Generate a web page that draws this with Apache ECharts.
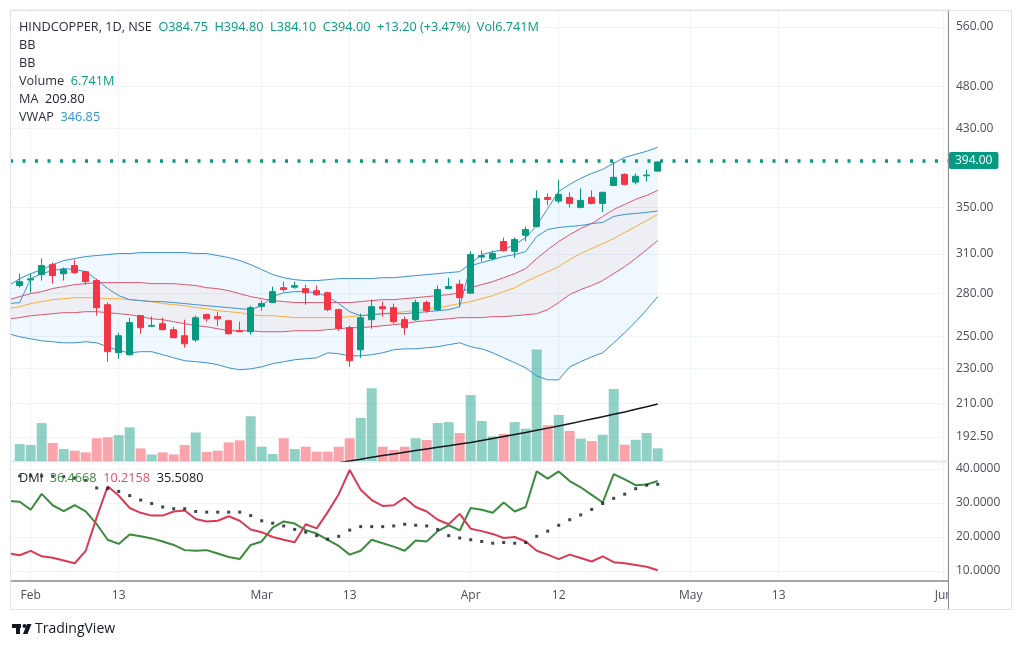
<!DOCTYPE html>
<html><head><meta charset="utf-8">
<script src="https://cdn.jsdelivr.net/npm/echarts@6/dist/echarts.min.js"></script>
<style>html,body{margin:0;padding:0;background:#fff}#c{width:1024px;height:647px}</style>
</head><body><div id="c"></div>
<script>
// ---- data (HINDCOPPER, 1D, NSE, 2024) ----
const dates = ['Jan 30','Jan 31','Feb 1','Feb 2','Feb 5','Feb 6','Feb 7','Feb 8','Feb 9','Feb 12','Feb 13','Feb 14','Feb 15','Feb 16','Feb 19','Feb 20','Feb 21','Feb 22','Feb 23','Feb 26','Feb 27','Feb 28','Feb 29','Mar 1','Mar 2','Mar 4','Mar 5','Mar 6','Mar 7','Mar 11','Mar 12','Mar 13','Mar 14','Mar 15','Mar 18','Mar 19','Mar 20','Mar 21','Mar 22','Mar 26','Mar 27','Mar 28','Apr 1','Apr 2','Apr 3','Apr 4','Apr 5','Apr 8','Apr 9','Apr 10','Apr 12','Apr 15','Apr 16','Apr 18','Apr 19','Apr 22','Apr 23','Apr 24','Apr 25','Apr 26'];
const opens = [284.5,285.6,289.8,293.9,301.6,294.5,300.8,296.1,289.3,271.7,239.8,238.5,264.1,256.9,258.6,254.6,250.6,247.9,264.8,263.4,260.6,253.9,253.2,270.5,273.3,284.0,284.4,283.3,281.8,280.3,268.2,256.0,241.6,261.3,270.3,269.6,261.3,261.3,273.2,268.2,283.3,286.6,280.0,307.6,306.4,320.3,312.2,325.6,333.1,359.3,355.9,359.3,350.1,359.3,353.7,370.7,381.5,373.9,380.1,384.75];
const highs = [288.0,294.6,294.6,306.4,303.2,299.3,305.6,296.9,290.8,273.2,252.6,262.6,264.5,263.4,262.6,256.5,261.3,264.1,265.5,266.8,261.3,259.9,271.0,274.6,284.8,288.5,288.5,286.3,285.6,281.1,268.9,257.2,265.5,275.3,273.9,272.5,263.4,275.3,274.6,285.6,291.5,290.0,312.2,312.8,312.8,323.6,323.9,333.0,365.9,363.1,376.3,364.1,367.8,365.9,364.3,394.0,382.5,382.5,386.2,394.8];
const lows = [283.0,284.0,280.3,289.3,287.0,289.3,294.5,286.3,264.1,234.2,236.0,237.9,251.9,256.5,254.2,249.0,242.9,246.6,259.9,257.2,251.5,253.0,251.3,267.5,272.8,281.1,283.3,271.7,278.1,267.0,253.9,231.1,236.6,255.2,263.4,258.6,251.3,260.6,266.1,267.0,282.9,269.9,279.5,304.0,304.8,312.0,307.0,320.5,332.2,351.9,354.0,350.1,349.2,352.8,345.7,370.7,370.7,371.7,374.6,384.1];
const closes = [286.5,288.5,290.6,300.8,293.1,297.7,295.3,288.5,269.6,240.4,250.6,259.3,255.9,257.4,254.6,249.3,245.4,262.6,261.9,261.9,251.9,253.2,269.6,272.5,281.1,282.6,285.5,280.3,278.9,268.2,255.4,234.8,262.6,270.3,268.9,259.9,255.9,273.2,267.5,282.6,284.8,276.7,309.6,308.8,310.4,312.8,321.9,330.5,358.1,357.4,362.0,353.7,356.5,353.7,364.1,378.6,371.7,379.6,380.8,394.0];
const volumesM = [13.0,9.0,8.5,20.2,9.6,6.4,5.5,4.6,12.1,12.6,13.8,17.9,6.7,3.5,4.6,3.5,8.5,15.2,4.8,5.5,9.9,11.0,23.8,7.6,3.7,12.1,6.4,7.6,5.0,5.0,7.6,12.1,22.9,38.7,7.6,5.9,7.6,12.1,11.2,20.2,20.7,14.9,35.1,21.3,13.1,14.4,20.7,17.2,59.4,19.0,24.5,16.0,11.9,10.6,14.0,38.3,8.7,11.3,14.9,6.741];
const bbOuterUpper = [285.6,290.8,294.6,297.7,301.6,304.8,306.4,308.0,308.8,309.6,310.4,310.4,311.2,311.2,311.2,311.2,311.2,310.4,310.4,308.8,307.2,304.8,301.6,297.7,293.9,291.5,290.0,289.3,289.3,290.0,290.8,290.8,290.8,290.8,291.5,291.5,292.3,293.1,293.9,294.6,295.4,296.1,302.4,309.6,312.0,313.6,317.7,323.6,333.9,349.1,365.0,371.7,377.6,382.5,386.5,392.7,398.8,402.0,405.2,409.4];
const bbOuterLower = [251.9,249.9,248.6,247.3,246.7,246.0,246.0,246.7,246.0,243.5,241.0,239.7,240.4,240.4,238.5,236.6,234.8,234.2,233.6,232.4,230.5,229.3,229.9,231.1,233.0,234.2,235.4,236.0,236.6,239.7,239.1,237.8,237.8,238.5,239.7,241.6,242.2,242.2,242.9,243.5,244.8,246.0,243.5,242.2,239.7,236.6,233.6,230.5,225.7,223.4,223.4,231.1,234.2,237.2,239.7,246.0,252.6,259.9,268.2,277.4];
const bbInnerUpper = [275.3,277.5,279.7,281.1,283.4,284.8,286.3,287.0,287.8,287.8,287.8,287.8,287.8,287.0,287.0,287.0,286.3,285.6,284.0,283.3,281.8,279.6,277.5,276.0,274.6,273.9,273.2,273.2,273.2,273.2,273.2,273.2,273.9,274.6,275.3,275.3,276.0,276.7,277.5,278.2,278.9,280.3,284.0,286.3,288.5,291.5,294.6,298.5,306.4,313.6,320.3,326.1,331.3,335.6,341.9,348.2,352.8,357.5,361.2,365.9];
const bbBasis = [268.9,270.3,272.5,273.9,275.3,276.0,276.7,276.7,276.7,276.0,276.0,275.3,274.6,273.9,272.5,271.7,271.0,269.6,268.9,267.5,266.8,266.1,264.7,264.0,264.0,263.4,262.7,262.7,262.7,262.7,262.7,263.4,264.0,264.7,265.4,266.1,266.8,267.5,268.9,269.6,271.0,272.5,273.9,276.0,278.2,281.1,284.0,288.5,292.3,296.1,300.0,305.6,310.4,314.5,318.6,322.7,327.9,333.1,338.3,343.7];
const bbInnerLower = [261.9,262.7,264.0,264.7,265.4,266.1,266.1,266.8,266.8,266.1,265.4,264.7,263.4,261.9,261.3,259.9,258.6,257.2,256.5,255.2,253.9,253.9,253.9,253.2,253.2,253.2,253.9,253.9,253.9,254.6,255.2,255.9,255.9,256.5,257.2,257.9,258.6,259.9,260.6,261.3,261.9,262.7,262.7,262.7,263.4,263.4,264.0,264.7,265.4,268.2,273.2,279.0,282.6,285.6,289.3,294.6,300.0,306.4,313.6,321.1];
const vwap = [272.5,273.2,290.8,294.6,296.9,298.5,297.7,296.1,290.0,283.4,278.2,275.3,274.6,273.9,273.9,273.2,272.5,271.7,271.0,270.3,269.6,268.9,268.2,271.0,277.5,280.3,281.1,281.1,280.3,277.5,272.5,266.8,264.0,264.7,265.4,265.4,265.4,266.1,266.8,267.5,268.2,270.3,300.8,303.2,305.6,308.0,309.6,312.0,324.5,330.5,332.2,333.1,333.9,335.6,336.6,341.9,343.7,344.6,345.5,346.85];
const maVals = [null,null,null,null,null,null,null,null,null,null,null,null,null,null,null,null,null,null,null,null,null,null,null,null,null,null,null,null,178.4,179.2,180.0,180.8,181.7,182.6,183.4,184.2,185.0,185.8,186.6,187.4,188.2,189.0,189.8,190.8,191.8,192.8,193.8,194.8,195.9,197.0,198.1,199.3,200.5,201.7,202.9,204.2,205.5,206.9,208.3,209.8];
const plusDI = [30.6,30.36,28.02,32.69,29.34,27.61,29.34,27.51,23.76,19.19,17.97,20.71,20.20,19.59,18.68,17.66,16.14,15.94,16.14,15.13,14.11,13.50,17.66,18.68,22.74,24.57,23.96,22.03,21.02,19.19,17.36,14.82,15.94,19.19,18.17,17.16,15.94,18.98,18.68,21.73,23.45,21.93,28.53,28.02,27.11,30.15,27.51,28.83,39.29,37.16,39.29,36.45,34.62,32.39,30.15,38.48,36.95,35.23,35.43,36.4668];
const minusDI = [15.2,14.62,15.94,14.31,13.91,13.10,12.28,15.94,25.79,34.92,32.18,28.53,27.11,26.29,26.29,27.51,27.82,25.28,24.57,24.77,26.09,24.77,22.23,21.42,20.00,19.19,18.48,23.76,22.54,27.31,32.59,39.70,33.91,30.86,29.14,29.34,31.57,28.83,27.51,25.08,23.76,26.80,22.44,21.73,20.91,19.70,20.00,18.68,15.94,14.82,13.50,14.82,13.81,12.79,14.31,12.59,12.28,11.78,11.27,10.2158];
const adx = [38.0,37.97,37.97,37.97,37.87,37.77,37.36,36.65,34.42,34.21,33.40,32.18,30.86,29.85,28.83,28.32,28.32,27.51,27.31,27.31,27.31,27.31,26.29,24.77,24.06,23.25,22.23,21.42,20.41,19.39,20.20,22.03,23.05,23.05,23.05,23.25,23.76,23.45,23.25,22.23,20.41,19.70,19.19,18.68,18.17,18.38,18.17,18.38,20.20,21.73,23.45,25.08,26.50,28.12,29.85,31.37,32.59,34.21,35.23,35.508];
const priceTicks = [560, 480, 430, 350, 310, 280, 250, 230, 210, 192.5];
const dmiTicks = [10, 20, 30, 40];
const xTickPos = [2, 10, 23, 31, 42, 50, 62, 70, 85];
const xTickText = ['Feb', '13', 'Mar', '13', 'Apr', '12', 'May', '13', 'Jun'];

// ---- build ----
const ln = Math.log;
const last = closes.length - 1;
const green = '#089981', red = '#f23645';
const bandBlue = '#3d8fcc', bandRed = '#d9566e', basisOrange = '#f2b03c';
const FONT = 'Open Sans';
const FS = 12.7;
const xMin = 0.1182, xMax = 85.391;
const yMin = 5.197588, yMax = 6.372213;
const inView = i => i >= xMin && i <= xMax;

const candleData = closes.map((c, i) => [i, ln(opens[i]), ln(c), ln(lows[i]), ln(highs[i])]).filter(d => inView(d[0]));
const volData = volumesM.map((v, i) => ({
  value: [i, v],
  itemStyle: { color: closes[i] >= opens[i] ? 'rgba(8,153,129,0.45)' : 'rgba(242,54,69,0.45)' }
})).filter(d => inView(d.value[0]));
const lnPts = arr => arr.map((v, i) => [i, v]).filter(p => p[1] != null).map(p => [p[0], ln(p[1])]);
const line = (arr, color, width, z) => ({
  type: 'line', xAxisIndex: 0, yAxisIndex: 0, data: lnPts(arr), symbol: 'none', showSymbol: false,
  lineStyle: { color, width }, z, silent: true
});
const band = (up, lo, fill) => ({
  type: 'custom', xAxisIndex: 0, yAxisIndex: 0, z: 1, silent: true, clip: true,
  data: [[30, ln(bbBasis[30])]],
  renderItem: (params, api) => {
    const top = up.map((v, i) => api.coord([i, ln(v)]));
    const bot = lo.map((v, i) => api.coord([i, ln(v)])).reverse();
    return { type: 'polygon', shape: { points: top.concat(bot) }, style: { fill } };
  }
});
const xLabelFmt = v => { const k = xTickPos.indexOf(Math.round(v)); return k >= 0 ? xTickText[k] : ''; };

const chg = closes[last] - closes[last - 1];
const pct = chg / closes[last - 1] * 100;
const sg = chg >= 0 ? '+' : '';
const header = '{n|HINDCOPPER, 1D, NSE}  {v|O' + opens[last].toFixed(2) + '}  {v|H' + highs[last].toFixed(2) +
  '}  {v|L' + lows[last].toFixed(2) + '}  {v|C' + closes[last].toFixed(2) + '}  {v|' + sg + chg.toFixed(2) +
  ' (' + sg + pct.toFixed(2) + '%)}  {v|Vol' + volumesM[last].toFixed(3) + 'M}';
const rich = {
  n: { fill: '#2a2e39', fontSize: FS, fontFamily: FONT },
  v: { fill: green, fontSize: FS, fontFamily: FONT },
  k: { fill: '#131722', fontSize: FS, fontFamily: FONT },
  b: { fill: '#2f95d3', fontSize: FS, fontFamily: FONT },
  g: { fill: '#3b8b3f', fontSize: FS, fontFamily: FONT },
  r: { fill: '#d9536b', fontSize: FS, fontFamily: FONT }
};
const txt = (x, y, text) => ({ type: 'text', x, y, z: 50, silent: true,
  style: { text, rich, font: FS + 'px ' + FONT, fill: '#2a2e39', verticalAlign: 'middle', textVerticalAlign: 'middle' } });

const option = {
  animation: false,
  backgroundColor: '#ffffff',
  grid: [
    { left: 10, right: 76, top: 10, height: 451, show: true, borderColor: '#e0e3eb', borderWidth: 1 },
    { left: 10, right: 76, top: 462, height: 119, show: true, borderColor: '#e0e3eb', borderWidth: 1 }
  ],
  xAxis: [
    { type: 'value', gridIndex: 0, min: xMin, max: xMax,
      axisLine: { show: false }, axisLabel: { show: false },
      axisTick: { show: false, customValues: xTickPos },
      splitLine: { show: true, lineStyle: { color: '#f0f3fa', width: 1 } } },
    { type: 'value', gridIndex: 1, min: xMin, max: xMax,
      axisLine: { show: true, lineStyle: { color: '#8a8d96', width: 1.5 } },
      axisTick: { show: false, customValues: xTickPos },
      axisLabel: { show: true, customValues: xTickPos, formatter: xLabelFmt, color: '#4a4e59', fontSize: 12, fontFamily: FONT, margin: 9 },
      splitLine: { show: true, lineStyle: { color: '#f0f3fa', width: 1 } } }
  ],
  yAxis: [
    { type: 'value', gridIndex: 0, position: 'right', min: yMin, max: yMax, scale: true,
      axisLine: { show: true, onZero: false, lineStyle: { color: '#8a8d96', width: 1 } },
      axisTick: { show: false, customValues: priceTicks.map(ln) },
      axisLabel: { show: true, customValues: priceTicks.map(ln), formatter: v => Math.exp(v).toFixed(2), color: '#4a4e59', fontSize: 12, fontFamily: FONT, margin: 8 },
      splitLine: { show: true, lineStyle: { color: '#f0f3fa', width: 1 } } },
    { type: 'value', gridIndex: 0, min: 0, max: 240, show: false, splitLine: { show: false } },
    { type: 'value', gridIndex: 1, position: 'right', min: 7.059, max: 42.059,
      axisLine: { show: true, onZero: false, lineStyle: { color: '#8a8d96', width: 1 } },
      axisTick: { show: false, customValues: dmiTicks },
      axisLabel: { show: true, customValues: dmiTicks, formatter: v => v.toFixed(4), color: '#4a4e59', fontSize: 12, fontFamily: FONT, margin: 8 },
      splitLine: { show: true, lineStyle: { color: '#f0f3fa', width: 1 } } }
  ],
  series: [
    band(bbOuterUpper, bbOuterLower, 'rgba(33,150,243,0.07)'),
    band(bbInnerUpper, bbInnerLower, 'rgba(242,54,69,0.05)'),
    { type: 'bar', xAxisIndex: 0, yAxisIndex: 1, data: volData, barWidth: 10, z: 2, silent: true },
    line(bbOuterUpper, bandBlue, 1, 3),
    line(bbOuterLower, bandBlue, 1, 3),
    line(bbInnerUpper, bandRed, 1, 3),
    line(bbInnerLower, bandRed, 1, 3),
    line(bbBasis, basisOrange, 1, 3),
    line(vwap, '#3b92cf', 1, 3),
    line(maVals, '#131722', 1.5, 3),
    { type: 'candlestick', xAxisIndex: 0, yAxisIndex: 0, data: candleData, barWidth: 6, z: 4, silent: true,
      itemStyle: { color: green, color0: red, borderColor: green, borderColor0: red, borderWidth: 1 },
      markLine: { silent: true, symbol: ['none', 'none'], animation: false,
        data: [{ yAxis: ln(closes[last]) }],
        lineStyle: { color: green, type: [3, 9.5], width: 3.5, opacity: 1 },
        label: { show: true, position: 'end', formatter: closes[last].toFixed(2), color: '#ffffff', backgroundColor: green,
          padding: [3, 6, 2, 6], borderRadius: 2, fontSize: 12, fontFamily: FONT, distance: 1 } } },
    { type: 'line', xAxisIndex: 1, yAxisIndex: 2, data: plusDI.map((v, i) => [i, v]), symbol: 'none', lineStyle: { color: '#3b8b3f', width: 2 }, z: 3, silent: true },
    { type: 'line', xAxisIndex: 1, yAxisIndex: 2, data: minusDI.map((v, i) => [i, v]), symbol: 'none', lineStyle: { color: '#d93b55', width: 2 }, z: 3, silent: true },
    { type: 'scatter', xAxisIndex: 1, yAxisIndex: 2, data: adx.map((v, i) => [i, v]).filter(d => inView(d[0])), symbol: 'rect', symbolSize: 3, itemStyle: { color: '#131722' }, z: 4, silent: true }
  ],
  graphic: [
    { type: 'rect', z: 60, silent: true, shape: { x: 949, y: 583, width: 62, height: 26 }, style: { fill: '#ffffff' } },
    { type: 'rect', z: 60, silent: true, shape: { x: 0, y: 10, width: 10, height: 600 }, style: { fill: '#ffffff' } },
    { type: 'line', z: 61, silent: true, shape: { x1: 948.5, y1: 581, x2: 948.5, y2: 610 }, style: { stroke: '#8a8d96', lineWidth: 1 } },
    { type: 'rect', z: 62, silent: true, shape: { x: 10.5, y: 10.5, width: 1001, height: 599 }, style: { fill: null, stroke: '#e0e3eb', lineWidth: 1 } },
    txt(19, 27, header),
    txt(19, 45, '{n|BB}'),
    txt(19, 63, '{n|BB}'),
    txt(19, 81, '{n|Volume}  {v|' + volumesM[last].toFixed(3) + 'M}'),
    txt(19, 99, '{n|MA}  {k|' + maVals[last].toFixed(2) + '}'),
    txt(19, 117, '{n|VWAP}  {b|' + vwap[last].toFixed(2) + '}'),
    txt(19, 478, '{n|DMI}  {g|' + plusDI[last].toFixed(4) + '}  {r|' + minusDI[last].toFixed(4) + '}  {k|' + adx[last].toFixed(4) + '}'),
    { type: 'rect', z: 50, silent: true, shape: { x: 12, y: 624, width: 9, height: 4 }, style: { fill: '#131722' } },
    { type: 'rect', z: 50, silent: true, shape: { x: 16, y: 624, width: 4, height: 10 }, style: { fill: '#131722' } },
    { type: 'circle', z: 50, silent: true, shape: { cx: 24.5, cy: 626, r: 2 }, style: { fill: '#131722' } },
    { type: 'polygon', z: 50, silent: true, shape: { points: [[27, 624], [31.5, 624], [27.5, 634], [23, 634]] }, style: { fill: '#131722' } },
    { type: 'text', z: 50, x: 35, y: 629, silent: true, style: { text: 'TradingView', font: '14px ' + FONT, fill: '#131722', verticalAlign: 'middle', textVerticalAlign: 'middle' } }
  ]
};
const chart = echarts.init(document.getElementById('c'), null, { renderer: 'canvas' });
chart.setOption(option);
</script>
</body></html>
